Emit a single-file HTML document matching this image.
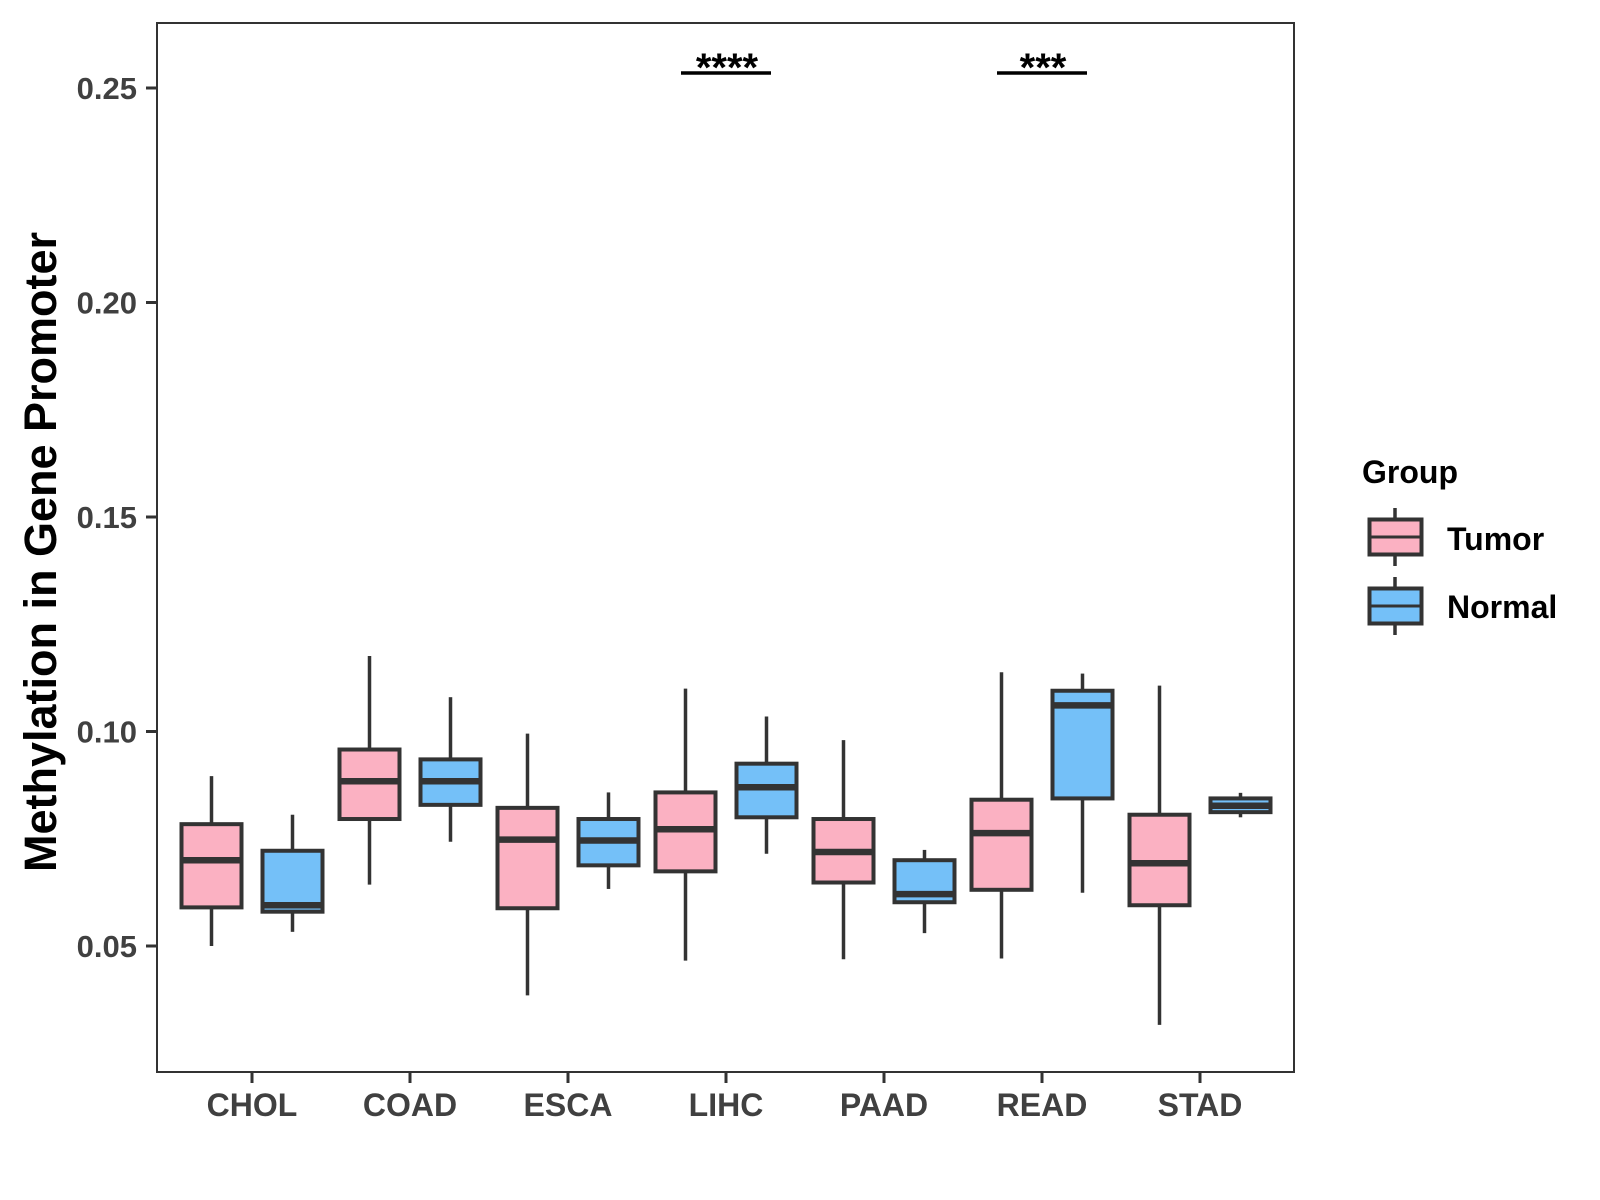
<!DOCTYPE html>
<html><head><meta charset="utf-8"><style>
html,body{margin:0;padding:0;background:#fff;}
svg{display:block;font-family:"Liberation Sans",Arial,sans-serif;}
</style></head><body>
<svg id="chart" width="1600" height="1200" viewBox="0 0 1600 1200" xmlns="http://www.w3.org/2000/svg">
<rect x="0" y="0" width="1600" height="1200" fill="#fff"/>
<g id="marks"></g>
<rect x="157" y="23" width="1137" height="1049" fill="none" stroke="#333" stroke-width="2"/>
<g id="axes"></g>
<text transform="translate(56,552) rotate(-90)" text-anchor="middle" font-size="45" font-weight="bold" fill="#000">Methylation in Gene Promoter</text>
<g>
<text x="1362" y="483" font-size="32" font-weight="bold" fill="#000">Group</text>
<g>
<line x1="1395" y1="508" x2="1395" y2="566" stroke="#333" stroke-width="3.5"/>
<rect x="1369.5" y="519.5" width="52" height="35" fill="#FBB1C2" stroke="#333" stroke-width="4"/>
<line x1="1369.5" y1="537" x2="1421.5" y2="537" stroke="#333" stroke-width="3"/>
<text x="1447" y="550" font-size="32" font-weight="bold" fill="#000">Tumor</text>
</g>
<g>
<line x1="1395" y1="577" x2="1395" y2="635" stroke="#333" stroke-width="3.5"/>
<rect x="1369.5" y="588.5" width="52" height="35" fill="#74C0F8" stroke="#333" stroke-width="4"/>
<line x1="1369.5" y1="606" x2="1421.5" y2="606" stroke="#333" stroke-width="3"/>
<text x="1447" y="618" font-size="32" font-weight="bold" fill="#000">Normal</text>
</g>
</g>
</svg>
<script>
const categories = ["CHOL","COAD","ESCA","LIHC","PAAD","READ","STAD"];
const groups = ["Tumor","Normal"];
const tumorMin = [0.050,0.0643,0.0385,0.0466,0.0469,0.0471,0.0316];
const tumorQ1  = [0.059,0.0796,0.0588,0.0674,0.0648,0.0631,0.0595];
const tumorMed = [0.070,0.0884,0.0748,0.0772,0.0719,0.0763,0.0693];
const tumorQ3  = [0.0784,0.0958,0.0822,0.0858,0.0796,0.0841,0.0806];
const tumorMax = [0.0896,0.1176,0.0995,0.110,0.098,0.1138,0.1107];
const normalMin = [0.0533,0.0743,0.0633,0.0715,0.053,0.0624,0.080];
const normalQ1  = [0.058,0.0829,0.0688,0.080,0.0602,0.0844,0.0812];
const normalMed = [0.0595,0.0884,0.0746,0.087,0.0621,0.1061,0.0827];
const normalQ3  = [0.0722,0.0935,0.0796,0.0925,0.070,0.1095,0.0844];
const normalMax = [0.0806,0.108,0.0858,0.1035,0.0724,0.1135,0.0857];
const yTicks = [0.05,0.10,0.15,0.20,0.25];
const yTickLabels = ["0.05","0.10","0.15","0.20","0.25"];
const sigCategories = ["LIHC","READ"];
const sigLabels = ["****","***"];
const sigValue = 0.2535;

const NS = "http://www.w3.org/2000/svg";
const y = v => 88 + (0.25 - v) / 0.2 * 858;
const x = i => 252 + i * 158;
const dodge = 40.5, boxW = 60;
function mk(tag, attrs, parent){const e=document.createElementNS(NS,tag);for(const k in attrs)e.setAttribute(k,attrs[k]);parent.appendChild(e);return e;}
const marks = document.getElementById('marks');
const axes = document.getElementById('axes');
const series = [
 {name:"tumor", fill:"#FBB1C2", off:-dodge, mn:tumorMin,q1:tumorQ1,md:tumorMed,q3:tumorQ3,mx:tumorMax},
 {name:"normal", fill:"#74C0F8", off:dodge, mn:normalMin,q1:normalQ1,md:normalMed,q3:normalQ3,mx:normalMax}
];
series.forEach(s=>{
 categories.forEach((c,i)=>{
  const cx = x(i)+s.off;
  const g = mk('g',{},marks);
  
  
  mk('line',{x1:cx,x2:cx,y1:y(s.mx[i]),y2:y(s.q3[i]),stroke:"#333","stroke-width":3.5},g);
  mk('line',{x1:cx,x2:cx,y1:y(s.q1[i]),y2:y(s.mn[i]),stroke:"#333","stroke-width":3.5},g);
  mk('rect',{x:cx-boxW/2,y:y(s.q3[i]),width:boxW,height:Math.max(0.5,y(s.q1[i])-y(s.q3[i])),fill:s.fill,stroke:"#333","stroke-width":4},g);
  mk('line',{x1:cx-boxW/2,x2:cx+boxW/2,y1:y(s.md[i]),y2:y(s.md[i]),stroke:"#333","stroke-width":6.5},g);
 });
});
yTicks.forEach((v,i)=>{
 const t = mk('line',{x1:146,x2:157,y1:y(v),y2:y(v),stroke:"#333","stroke-width":3},axes);
 
 
 const l = mk('text',{x:137,y:y(v)+11,"text-anchor":"end","font-size":31,"font-weight":"bold",fill:"#404040"},axes);
 l.textContent = yTickLabels[i];
 
 
});
categories.forEach((c,i)=>{
 const t = mk('line',{x1:x(i),x2:x(i),y1:1072,y2:1083,stroke:"#333","stroke-width":3},axes);
 
 
 const l = mk('text',{x:x(i),y:1116,"text-anchor":"middle","font-size":32,"font-weight":"bold",fill:"#404040"},axes);
 l.textContent = c;
 
 
});
sigCategories.forEach((c,k)=>{
 const i = categories.indexOf(c);
 const ly = y(sigValue);
 const ln = mk('line',{x1:x(i)-45,x2:x(i)+45,y1:ly,y2:ly,stroke:"#000","stroke-width":3.5},axes);
 
 
 const t = mk('text',{x:x(i)+1,y:ly+8,"text-anchor":"middle","font-size":40,"font-weight":"bold",fill:"#000"},axes);
 t.textContent = sigLabels[k];
 
 
});
</script>
</body></html>
